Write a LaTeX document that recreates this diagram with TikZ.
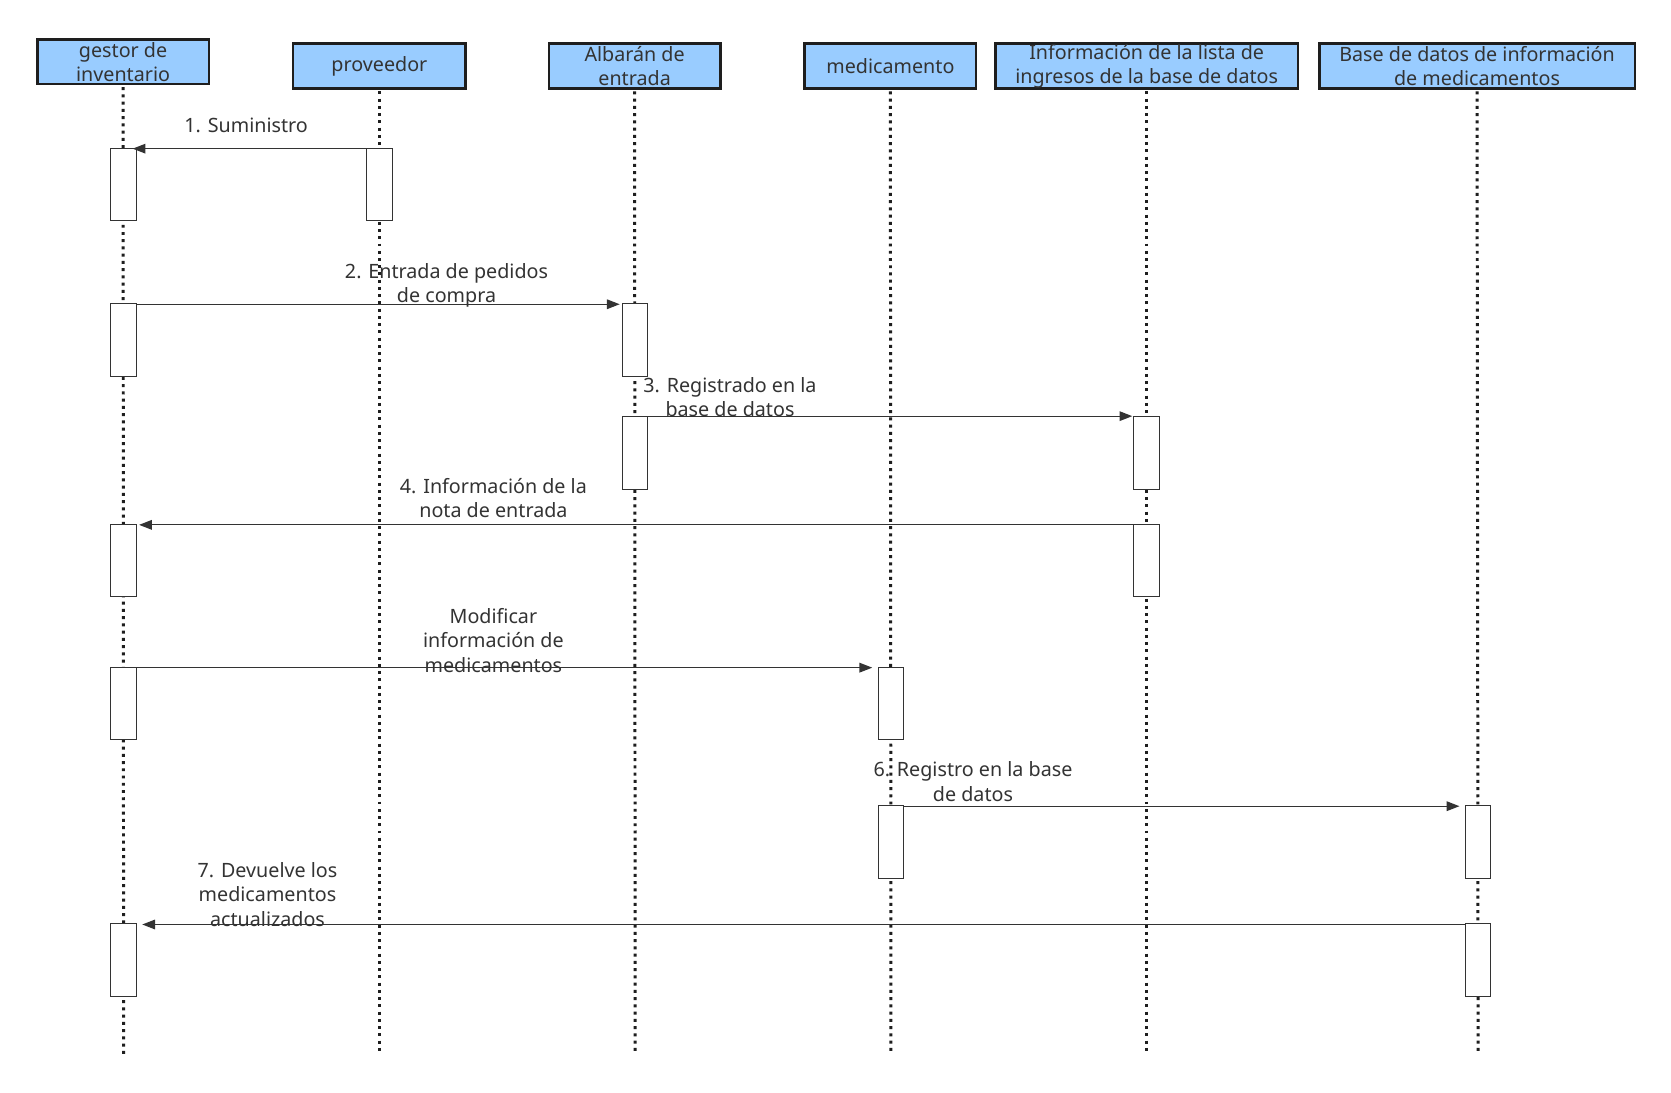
\documentclass[tikz,border=0pt]{standalone}
\usepackage{fontspec}
\setmainfont{Noto Sans}
\usetikzlibrary{arrows.meta}
\definecolor{hdrfill}{RGB}{153,204,255}
\definecolor{ink}{RGB}{51,51,51}
\definecolor{lifeink}{RGB}{30,30,30}
\begin{document}
\begin{tikzpicture}[x=1pt,y=-1pt,
  hdr/.style={draw=lifeink, line width=2.4pt, fill=hdrfill, minimum height=42pt, inner sep=0pt, align=center, text=ink, font=\fontsize{18.5}{22.5}\selectfont},
  act/.style={draw=ink, line width=1pt, fill=white, minimum width=24pt, minimum height=68pt, inner sep=0pt},
  life/.style={draw=lifeink, line width=2.8pt, dash pattern=on 2.8pt off 4pt},
  msg/.style={draw=ink, line width=1.2pt, -{Triangle[length=12pt,width=9pt]}},
  lbl/.style={align=center, text=ink, font=\fontsize{18.5}{23}\selectfont, inner sep=0pt},
]
\useasboundingbox[fill=white] (0,0) rectangle (1568,1025);

% headers
\node[hdr, minimum width=161pt] (h1) at (115.5,58) {gestor de\\inventario};
\node[hdr, minimum width=162pt] (h2) at (356,62) {proveedor};
\node[hdr, minimum width=161pt] (h3) at (595.5,62) {Albarán de\\entrada};
\node[hdr, minimum width=161pt] (h4) at (835.5,62) {medicamento};
\node[hdr, minimum width=284pt] (h5) at (1076,62) {Información de la lista de\\ingresos de la base de datos};
\node[hdr, minimum width=296pt] (h6) at (1386,62) {Base de datos de información\\de medicamentos};

% lifeline ends
\coordinate (e1) at (116,989);
\coordinate (e2) at (356,987);
\coordinate (e3) at (596,987);
\coordinate (e4) at (836,987);
\coordinate (e5) at (1076,987);
\coordinate (e6) at (1387,987);

\draw[life] ([yshift=-1.5pt]h1.south) -- (e1);
\draw[life] ([yshift=-1.5pt]h2.south) -- (e2);
\draw[life] ([yshift=-1.5pt]h3.south) -- (e3);
\draw[life] ([yshift=-1.5pt]h4.south) -- (e4);
\draw[life] ([yshift=-1.5pt]h5.south) -- (e5);
\draw[life] ([yshift=-1.5pt]h6.south) -- (e6);

% activation boxes
\node[act] (g1) at (116,173) {};
\node[act] (p1) at (356,173) {};
\node[act] (g2) at (116,319) {};
\node[act] (al2) at (596,319) {};
\node[act] (al3) at (596,425) {};
\node[act] (in3) at (1076,425) {};
\node[act] (in4) at (1076,526) {};
\node[act] (g4) at (116,526) {};
\node[act] (g5) at (116,660) {};
\node[act] (m5) at (836,660) {};
\node[act] (m6) at (836,790) {};
\node[act] (b6) at (1387,790) {};
\node[act] (b7) at (1387,901) {};
\node[act] (g7) at (116,901) {};

% messages
\draw[msg] ([yshift=-1pt]p1.north west) -- ([xshift=-4pt,yshift=-1pt]g1.north east);
\draw[msg] ([yshift=-1pt]g2.north east) -- ([xshift=-2pt,yshift=-1pt]al2.north west);
\draw[msg] (al3.north east) -- ([xshift=-1pt]in3.north west);
\draw[msg] ([yshift=-1pt]in4.north west) -- ([xshift=2pt,yshift=-1pt]g4.north east);
\draw[msg] ([yshift=-1pt]g5.north east) -- ([xshift=-5pt,yshift=-1pt]m5.north west);
\draw[msg] ([yshift=-1pt]m6.north east) -- ([xshift=-5pt,yshift=-1pt]b6.north west);
\draw[msg] ([yshift=-1pt]b7.north west) -- ([xshift=5pt,yshift=-1pt]g7.north east);

% labels
\node[lbl] (l1) at (231,118) {1. Suministro};
\node[lbl] (l2) at (419,268) {2. Entrada de pedidos\\de compra};
\node[lbl] (l3) at (685,372.5) {3. Registrado en la\\base de datos};
\node[lbl] (l4) at (463,467.5) {4. Información de la\\nota de entrada};
\node[lbl] (l5) at (463,601) {Modificar\\información de\\medicamentos};
\node[lbl] (l6) at (913,733.5) {6. Registro en la base\\de datos};
\node[lbl] (l7) at (251,839) {7. Devuelve los\\medicamentos\\actualizados};
\end{tikzpicture}
\end{document}
